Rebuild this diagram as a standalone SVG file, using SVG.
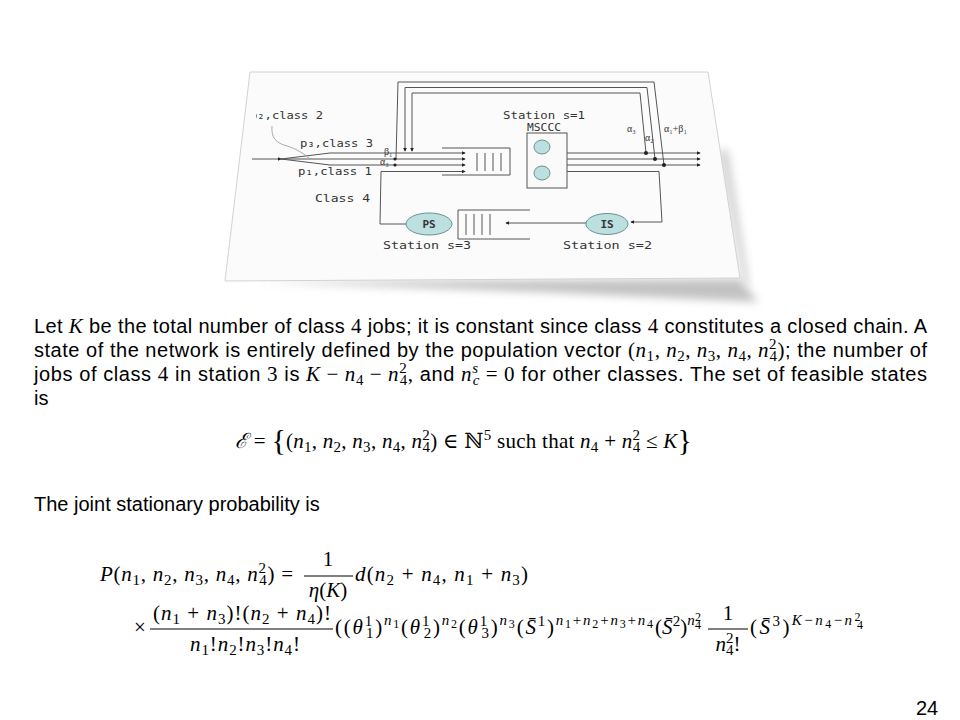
<svg xmlns="http://www.w3.org/2000/svg" width="960" height="720" viewBox="0 0 960 720">
<style>
.t{font-family:"Liberation Sans",Arial,sans-serif;font-size:20px;fill:#000}
.m{font-family:"Liberation Serif","DejaVu Serif",serif;font-size:21px;fill:#000}
.i{font-style:italic}
.s{font-size:15px}
.ss{font-size:12px}
.br{font-size:30px}
.ln{stroke:#555;stroke-width:1;fill:none}
.lg{stroke:#aaa;stroke-width:1;fill:none}
.dl{font-family:"DejaVu Sans Mono",monospace;font-size:11px;fill:#333}
.dg{font-family:"Liberation Serif",serif;font-size:10px;fill:#333}
.node{fill:#bcdfe0;stroke:#6f9090;stroke-width:1}
.box{fill:#fafafa;stroke:#555;stroke-width:1}
.bar{stroke:#000;stroke-width:1}
</style>
<defs>
<marker id="ar" viewBox="0 0 6 6" refX="5" refY="3" markerWidth="4" markerHeight="4" orient="auto"><path d="M0,0 L6,3 L0,6 z" fill="#222"/></marker>
<filter id="blur" x="-10%" y="-50%" width="120%" height="200%"><feGaussianBlur stdDeviation="4"/></filter>
<clipPath id="cl"><rect x="256" y="100" width="100" height="30"/></clipPath>
</defs>
<rect width="960" height="720" fill="#fff"/>

<g id="figure">
<polygon points="260,282 740,279 758,302 540,292" fill="#b8b8b8" opacity="0.85" filter="url(#blur)"/>
<polygon points="718,150 742,278 750,290 728,150" fill="#d0d0d0" filter="url(#blur)"/>
<polygon points="250,72 708,72 740,278 225,281" fill="#fbfbfb" stroke="#d2d2d2" stroke-width="1"/>
</g>

<g id="connectors">
<path class="ln" d="M252,159 L281,159" marker-end="url(#ar)"/>
<path class="ln" d="M281,159 L330,153 L465,153" marker-end="url(#ar)"/>
<path class="ln" d="M281,159 L465,159" marker-end="url(#ar)"/>
<path class="ln" d="M281,159 L330,165 L465,165" marker-end="url(#ar)"/>
<path class="lg" d="M272,126 C271,138 276,143 287,146 C297,149 304,154 309,158"/>
<path class="ln" d="M406,224 L380,224 L381,171.5 L465,171.5" marker-end="url(#ar)"/>
<path class="ln" d="M646,153 L640,93 L412,93 L412,151" marker-end="url(#ar)"/>
<path class="ln" d="M655,159 L647,87.5 L405,87.5 L405,151" marker-end="url(#ar)"/>
<path class="ln" d="M664,165 L654,82 L398,82 L396,159"/>
<path class="ln" d="M567,153 L700,153" marker-end="url(#ar)"/>
<path class="ln" d="M567,159 L700,159" marker-end="url(#ar)"/>
<path class="ln" d="M567,165 L700,165" marker-end="url(#ar)"/>
<path class="ln" d="M567,171.5 L659,171.5 L662,222 L631,222" marker-end="url(#ar)"/>
<path class="ln" d="M586,223 L506,223" marker-end="url(#ar)"/>
<g fill="#222">
<circle cx="646" cy="153" r="2"/><circle cx="655" cy="159" r="2"/><circle cx="664" cy="165" r="2"/>
<circle cx="395" cy="159" r="1.6"/><circle cx="395" cy="165" r="1.6"/>
</g>
</g>

<g id="queue1">
<path class="ln" d="M442,148 L510,148 L510,175 L442,175"/>
<path class="ln" d="M477,153 V171 M485,153 V171 M493,153 V171 M501,153 V171"/>
</g>

<g id="station1">
<rect class="box" x="527" y="133" width="40" height="55"/>
<ellipse class="node" cx="542" cy="147" rx="8" ry="7"/>
<ellipse class="node" cx="542" cy="173" rx="8" ry="7"/>
<text class="dl" x="503" y="119" textLength="82" lengthAdjust="spacingAndGlyphs">Station s=1</text>
<text class="dl" x="527" y="131" font-size="9" textLength="34" lengthAdjust="spacingAndGlyphs">MSCCC</text>
</g>

<g id="station2">
<ellipse class="node" cx="607" cy="224" rx="21" ry="10.5"/>
<text class="dl" x="607" y="227.5" text-anchor="middle" font-size="9" font-weight="bold">IS</text>
<text class="dl" x="563" y="249" textLength="89" lengthAdjust="spacingAndGlyphs">Station s=2</text>
</g>

<g id="station3">
<path class="ln" d="M530,210 L458,210 L458,239 L530,239"/>
<path class="ln" d="M466,214 V235 M474,214 V235 M482,214 V235 M490,214 V235"/>
<ellipse class="node" cx="429" cy="224" rx="23" ry="11"/>
<text class="dl" x="429" y="227.5" text-anchor="middle" font-size="9" font-weight="bold">PS</text>
<text class="dl" x="383" y="249" textLength="88" lengthAdjust="spacingAndGlyphs">Station s=3</text>
</g>

<g id="labels">
<text class="dl" x="250" y="119" textLength="73" lengthAdjust="spacingAndGlyphs" clip-path="url(#cl)">p₂,class 2</text>
<text class="dl" x="300" y="147" textLength="73" lengthAdjust="spacingAndGlyphs">p₃,class 3</text>
<text class="dl" x="298" y="175" textLength="74" lengthAdjust="spacingAndGlyphs">p₁,class 1</text>
<text class="dl" x="315" y="202" textLength="55" lengthAdjust="spacingAndGlyphs">Class 4</text>
<text class="dg" x="384" y="155">β₁</text>
<text class="dg" x="380" y="165">α₃</text>
<text class="dg" x="627" y="132">α₃</text>
<text class="dg" x="645" y="141">α₂</text>
<text class="dg" x="664" y="132">α₁+β₁</text>
</g>

<g id="body">
<text class="t" x="34" y="333" textLength="893" lengthAdjust="spacing">Let <tspan class="m i">K</tspan> be the total number of class <tspan class="m">4</tspan> jobs; it is constant since class <tspan class="m">4</tspan> constitutes a closed chain. A</text>
<text class="t" x="34" y="357" textLength="893" lengthAdjust="spacing">state of the network is entirely defined by the population vector <tspan class="m">(</tspan><tspan class="m i">n</tspan><tspan class="m s" dy="4">1</tspan><tspan class="m" dy="-4">, </tspan><tspan class="m i">n</tspan><tspan class="m s" dy="4">2</tspan><tspan class="m" dy="-4">, </tspan><tspan class="m i">n</tspan><tspan class="m s" dy="4">3</tspan><tspan class="m" dy="-4">, </tspan><tspan class="m i">n</tspan><tspan class="m s" dy="4">4</tspan><tspan class="m" dy="-4">, </tspan><tspan class="m i">n</tspan><tspan class="m s" dy="-8">2</tspan><tspan class="m s" dx="-7.5" dy="12">4</tspan><tspan class="m" dy="-4">)</tspan>; the number of</text>
<text class="t" x="34" y="381" textLength="893" lengthAdjust="spacing">jobs of class <tspan class="m">4</tspan> in station <tspan class="m">3</tspan> is <tspan class="m i">K</tspan><tspan class="m"> − </tspan><tspan class="m i">n</tspan><tspan class="m s" dy="4">4</tspan><tspan class="m" dy="-4"> − </tspan><tspan class="m i">n</tspan><tspan class="m s" dy="-8">2</tspan><tspan class="m s" dx="-7.5" dy="12">4</tspan><tspan class="m" dy="-4">,</tspan> and <tspan class="m i">n</tspan><tspan class="m s i" dy="-8">s</tspan><tspan class="m s i" dx="-5.8" dy="12">c</tspan><tspan class="m" dy="-4"> = 0</tspan> for other classes. The set of feasible states</text>
<text class="t" x="34" y="405">is</text>
<text class="t" x="34" y="511">The joint stationary probability is</text>
<text class="t" x="916" y="715" font-size="18">24</text>
</g>

<g id="setformula">
<text class="m" x="235" y="448" textLength="457" lengthAdjust="spacing"><tspan class="i">ℰ</tspan> = <tspan class="br" dy="2">{</tspan><tspan dy="-2">(</tspan><tspan class="i">n</tspan><tspan class="s" dy="4">1</tspan><tspan dy="-4">, </tspan><tspan class="i">n</tspan><tspan class="s" dy="4">2</tspan><tspan dy="-4">, </tspan><tspan class="i">n</tspan><tspan class="s" dy="4">3</tspan><tspan dy="-4">, </tspan><tspan class="i">n</tspan><tspan class="s" dy="4">4</tspan><tspan dy="-4">, </tspan><tspan class="i">n</tspan><tspan class="s" dy="-8">2</tspan><tspan class="s" dx="-7.5" dy="12">4</tspan><tspan dy="-4">) ∈ ℕ</tspan><tspan class="s" dy="-8">5</tspan><tspan dy="8"> such that </tspan><tspan class="i">n</tspan><tspan class="s" dy="4">4</tspan><tspan dy="-4"> + </tspan><tspan class="i">n</tspan><tspan class="s" dy="-8">2</tspan><tspan class="s" dx="-7.5" dy="12">4</tspan><tspan dy="-4"> ≤ </tspan><tspan class="i">K</tspan><tspan class="br" dy="2">}</tspan></text>
</g>

<g id="probformula">
<text class="m" x="100" y="581" textLength="193" lengthAdjust="spacing"><tspan class="i">P</tspan>(<tspan class="i">n</tspan><tspan class="s" dy="4">1</tspan><tspan dy="-4">, </tspan><tspan class="i">n</tspan><tspan class="s" dy="4">2</tspan><tspan dy="-4">, </tspan><tspan class="i">n</tspan><tspan class="s" dy="4">3</tspan><tspan dy="-4">, </tspan><tspan class="i">n</tspan><tspan class="s" dy="4">4</tspan><tspan dy="-4">, </tspan><tspan class="i">n</tspan><tspan class="s" dy="-8">2</tspan><tspan class="s" dx="-7.5" dy="12">4</tspan><tspan dy="-4">) =</tspan></text>
<text class="m" x="328" y="566" text-anchor="middle">1</text>
<line class="bar" x1="304" y1="576" x2="353" y2="576"/>
<text class="m" x="328" y="597" text-anchor="middle"><tspan class="i">η</tspan>(<tspan class="i">K</tspan>)</text>
<text class="m" x="355" y="581" textLength="173" lengthAdjust="spacing"><tspan class="i">d</tspan>(<tspan class="i">n</tspan><tspan class="s" dy="4">2</tspan><tspan dy="-4"> + </tspan><tspan class="i">n</tspan><tspan class="s" dy="4">4</tspan><tspan dy="-4">, </tspan><tspan class="i">n</tspan><tspan class="s" dy="4">1</tspan><tspan dy="-4"> + </tspan><tspan class="i">n</tspan><tspan class="s" dy="4">3</tspan><tspan dy="-4">)</tspan></text>

<text class="m" x="134" y="634">×</text>
<text class="m" x="153" y="620" textLength="178" lengthAdjust="spacing">(<tspan class="i">n</tspan><tspan class="s" dy="4">1</tspan><tspan dy="-4"> + </tspan><tspan class="i">n</tspan><tspan class="s" dy="4">3</tspan><tspan dy="-4">)!(</tspan><tspan class="i">n</tspan><tspan class="s" dy="4">2</tspan><tspan dy="-4"> + </tspan><tspan class="i">n</tspan><tspan class="s" dy="4">4</tspan><tspan dy="-4">)!</tspan></text>
<line class="bar" x1="150" y1="629" x2="333" y2="629"/>
<text class="m" x="190" y="651" textLength="110" lengthAdjust="spacing"><tspan class="i">n</tspan><tspan class="s" dy="4">1</tspan><tspan dy="-4">!</tspan><tspan class="i">n</tspan><tspan class="s" dy="4">2</tspan><tspan dy="-4">!</tspan><tspan class="i">n</tspan><tspan class="s" dy="4">3</tspan><tspan dy="-4">!</tspan><tspan class="i">n</tspan><tspan class="s" dy="4">4</tspan><tspan dy="-4">!</tspan></text>

<text class="m" x="335" y="634" textLength="318" lengthAdjust="spacing">((<tspan class="i">θ</tspan><tspan class="s" dy="-8">1</tspan><tspan class="s" dx="-7.5" dy="12">1</tspan><tspan dy="-4">)</tspan><tspan class="s i" dy="-9">n</tspan><tspan class="ss" dy="3">1</tspan><tspan dy="6">(</tspan><tspan class="i">θ</tspan><tspan class="s" dy="-8">1</tspan><tspan class="s" dx="-7.5" dy="12">2</tspan><tspan dy="-4">)</tspan><tspan class="s i" dy="-9">n</tspan><tspan class="ss" dy="3">2</tspan><tspan dy="6">(</tspan><tspan class="i">θ</tspan><tspan class="s" dy="-8">1</tspan><tspan class="s" dx="-7.5" dy="12">3</tspan><tspan dy="-4">)</tspan><tspan class="s i" dy="-9">n</tspan><tspan class="ss" dy="3">3</tspan><tspan dy="6">(</tspan><tspan class="i">S̄</tspan><tspan class="s" dy="-8">1</tspan><tspan dy="8">)</tspan><tspan class="s i" dy="-9">n</tspan><tspan class="ss" dy="3">1</tspan><tspan class="s" dy="-3">+</tspan><tspan class="s i">n</tspan><tspan class="ss" dy="3">2</tspan><tspan class="s" dy="-3">+</tspan><tspan class="s i">n</tspan><tspan class="ss" dy="3">3</tspan><tspan class="s" dy="-3">+</tspan><tspan class="s i">n</tspan><tspan class="ss" dy="3">4</tspan></text>
<text class="m" x="655" y="634" textLength="46" lengthAdjust="spacing">(<tspan class="i">S̄</tspan><tspan class="s" dy="-8">2</tspan><tspan dy="8">)</tspan><tspan class="s i" dy="-9">n</tspan><tspan class="ss" dy="-4">2</tspan><tspan class="ss" dx="-6" dy="8">4</tspan></text>
<text class="m" x="728" y="620" text-anchor="middle">1</text>
<line class="bar" x1="708" y1="629" x2="748" y2="629"/>
<text class="m" x="728" y="651" text-anchor="middle"><tspan class="i">n</tspan><tspan class="s" dy="-8">2</tspan><tspan class="s" dx="-7.5" dy="12">4</tspan><tspan dy="-4">!</tspan></text>
<text class="m" x="750" y="634" textLength="113" lengthAdjust="spacing">(<tspan class="i">S̄</tspan><tspan class="s" dy="-8">3</tspan><tspan dy="8">)</tspan><tspan class="s i" dy="-9">K</tspan><tspan class="s">−</tspan><tspan class="s i">n</tspan><tspan class="ss" dy="3">4</tspan><tspan class="s" dy="-3">−</tspan><tspan class="s i">n</tspan><tspan class="ss" dy="-4">2</tspan><tspan class="ss" dx="-6" dy="8">4</tspan></text>
</g>
</svg>
